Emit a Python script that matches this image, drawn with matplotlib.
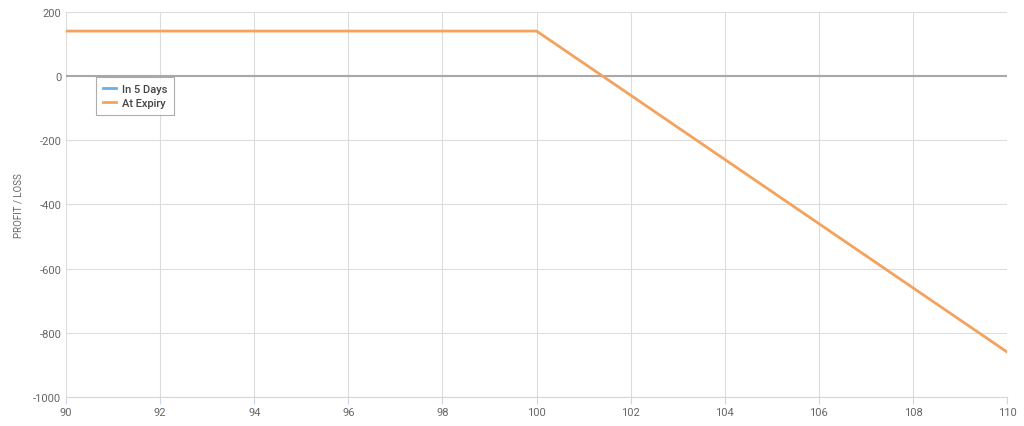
import numpy as np
import matplotlib.pyplot as plt

prices = [90, 100, 110]
at_expiry = [140, 140, -860]
in_5_days_x = []
in_5_days_y = []

xticks = np.arange(90, 111, 2)
yticks = np.arange(-1000, 201, 200)

plt.rcParams['font.family'] = ['Roboto', 'DejaVu Sans']
plt.rcParams['axes.unicode_minus'] = False

fig = plt.figure(figsize=(10.24, 4.27), dpi=100)
ax = fig.add_axes([0.0645, 0.068, 0.919, 0.902])

ax.plot(in_5_days_x, in_5_days_y, color='#6aaee8', lw=2, label='In 5 Days')
ax.plot(prices, at_expiry, color='#f5a25d', lw=2, label='At Expiry', zorder=3)
ax.axhline(0, color='#a8a8a8', lw=1.5, zorder=2)

ax.set_xlim(90, 110)
ax.set_ylim(-1000, 200)
ax.set_xticks(xticks)
ax.set_yticks(yticks)
ax.grid(True, color='#dcdcdc', lw=0.8)
ax.set_axisbelow(True)
for s in ['top', 'right', 'left']:
    ax.spines[s].set_visible(False)
ax.spines['bottom'].set_color('#c9d9ec')
ax.tick_params(axis='both', colors='#666666', labelsize=8, length=0)
ax.tick_params(axis='x', length=5, color='#c9d9ec', pad=2)
ax.set_ylabel('PROFIT / LOSS', color='#666666', fontsize=7)
ax.yaxis.set_label_coords(-0.045, 0.5)

leg = ax.legend(loc='upper left', bbox_to_anchor=(0.026, 0.845), fontsize=8,
                frameon=True, fancybox=False, handlelength=1.2, borderpad=0.6,
                labelspacing=0.4, handletextpad=0.5,
                prop={'weight': 'medium', 'size': 8})
leg.get_frame().set_edgecolor('#999999')
leg.get_frame().set_linewidth(0.8)
for t in leg.get_texts():
    t.set_color('#444444')

fig.savefig('out.png', dpi=100)
